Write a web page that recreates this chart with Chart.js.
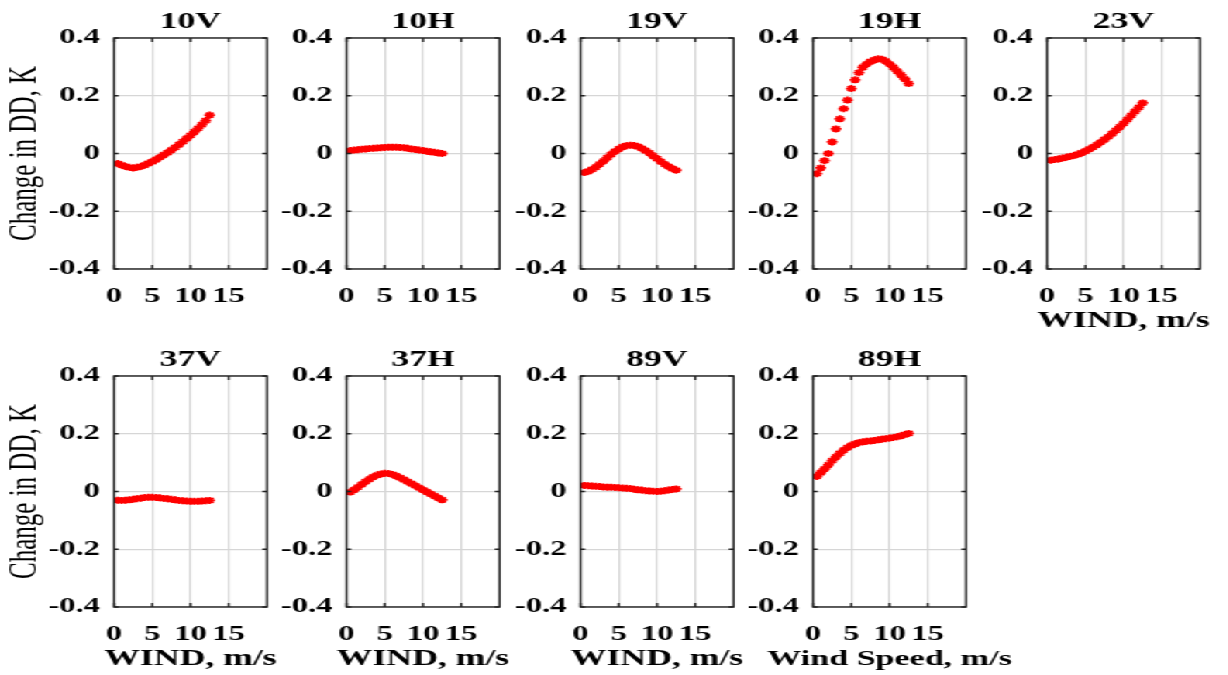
<!DOCTYPE html>
<html>
<head>
<meta charset="utf-8">
<script src="https://cdn.jsdelivr.net/npm/chart.js@4.4.1/dist/chart.umd.min.js"></script>
<style>
  html, body { margin: 0; padding: 0; background: #fff; overflow: hidden; }
  #stage { position: absolute; left: 0; top: 0; width: 793px; height: 675px;
           transform: scaleX(1.55); transform-origin: 0 0; }
  #stage canvas { position: absolute; }
</style>
</head>
<body>
<div id="stage"></div>
<script>
// wind speed bins, m/s
const wind = [0.5, 1, 1.5, 2, 2.5, 3, 3.5, 4, 4.5, 5, 5.5, 6, 6.5, 7, 7.5, 8, 8.5, 9, 9.5, 10, 10.5, 11, 11.5, 12, 12.5];

// change in DD, K
const dd10V = [-0.035, -0.04, -0.045, -0.048, -0.05, -0.048, -0.045, -0.04, -0.034, -0.028, -0.021, -0.013, -0.005, 0.003, 0.012, 0.021, 0.031, 0.041, 0.052, 0.063, 0.075, 0.087, 0.1, 0.114, 0.133];
const dd10H = [0.01, 0.012, 0.013, 0.015, 0.016, 0.017, 0.018, 0.019, 0.02, 0.021, 0.022, 0.022, 0.022, 0.021, 0.02, 0.018, 0.016, 0.014, 0.012, 0.01, 0.008, 0.006, 0.004, 0.002, 0.0];
const dd19V = [-0.066, -0.062, -0.055, -0.047, -0.037, -0.026, -0.014, -0.003, 0.007, 0.016, 0.023, 0.027, 0.029, 0.028, 0.024, 0.018, 0.01, 0.002, -0.008, -0.018, -0.028, -0.037, -0.045, -0.052, -0.058];
const dd19H = [-0.07, -0.05, -0.025, 0.0, 0.04, 0.085, 0.12, 0.155, 0.185, 0.225, 0.255, 0.28, 0.298, 0.31, 0.318, 0.324, 0.328, 0.326, 0.32, 0.31, 0.298, 0.285, 0.272, 0.258, 0.242];
const dd23V = [-0.023, -0.021, -0.019, -0.016, -0.013, -0.01, -0.007, -0.003, 0.002, 0.008, 0.015, 0.022, 0.03, 0.039, 0.048, 0.058, 0.069, 0.08, 0.092, 0.104, 0.118, 0.132, 0.146, 0.16, 0.175];
const dd37V = [-0.03, -0.031, -0.03, -0.029, -0.027, -0.025, -0.023, -0.021, -0.02, -0.02, -0.021, -0.022, -0.024, -0.025, -0.027, -0.029, -0.031, -0.032, -0.033, -0.034, -0.034, -0.034, -0.033, -0.032, -0.031];
const dd37H = [-0.002, 0.006, 0.015, 0.025, 0.034, 0.043, 0.051, 0.057, 0.061, 0.063, 0.062, 0.059, 0.054, 0.048, 0.041, 0.034, 0.027, 0.02, 0.013, 0.006, -0.001, -0.008, -0.015, -0.022, -0.029];
const dd89V = [0.021, 0.02, 0.019, 0.018, 0.017, 0.016, 0.015, 0.015, 0.014, 0.013, 0.012, 0.011, 0.01, 0.008, 0.006, 0.005, 0.003, 0.002, 0.001, 0.0, 0.001, 0.003, 0.005, 0.007, 0.009];
const dd89H = [0.052, 0.065, 0.078, 0.092, 0.107, 0.12, 0.132, 0.143, 0.152, 0.16, 0.165, 0.169, 0.172, 0.174, 0.175, 0.177, 0.179, 0.181, 0.183, 0.185, 0.187, 0.19, 0.193, 0.197, 0.201];

const xTicks = [0, 5, 10, 15];
const yTicks = [-0.4, -0.2, 0, 0.2, 0.4];
const yLabel = 'Change in DD, K';

const panels = [
  { name: '10V', vals: dd10V, row: 0, col: 0, xTitle: '' },
  { name: '10H', vals: dd10H, row: 0, col: 1, xTitle: '' },
  { name: '19V', vals: dd19V, row: 0, col: 2, xTitle: '' },
  { name: '19H', vals: dd19H, row: 0, col: 3, xTitle: '' },
  { name: '23V', vals: dd23V, row: 0, col: 4, xTitle: 'WIND, m/s' },
  { name: '37V', vals: dd37V, row: 1, col: 0, xTitle: 'WIND, m/s' },
  { name: '37H', vals: dd37H, row: 1, col: 1, xTitle: 'WIND, m/s' },
  { name: '89V', vals: dd89V, row: 1, col: 2, xTitle: 'WIND, m/s' },
  { name: '89H', vals: dd89H, row: 1, col: 3, xTitle: 'Wind Speed, m/s', capSize: 22 },
];

const S = 1.55;                 // horizontal stretch of the whole figure
const plotLefts = [114, 347, 580, 813, 1047];
const plotTops = [38, 376];
const yAxisW = 114 / S;
const plotW = 153 / S;
const canvasW = Math.round((114 + 153 + 70) / S);   // extra room on the right for captions
const canvasH = 345;

const serif = 'Liberation Serif';

// black frame with inward ticks, like the original plots
const framePlugin = {
  id: 'frame',
  afterDraw(chart) {
    const { ctx, chartArea: a, scales } = chart;
    ctx.save();
    ctx.strokeStyle = '#222';
    ctx.lineWidth = 1.4;
    ctx.strokeRect(a.left, a.top, a.right - a.left, a.bottom - a.top);
    ctx.beginPath();
    xTicks.forEach(v => {
      const px = scales.x.getPixelForValue(v);
      ctx.moveTo(px, a.bottom); ctx.lineTo(px, a.bottom - 4);
      ctx.moveTo(px, a.top); ctx.lineTo(px, a.top + 4);
    });
    yTicks.forEach(v => {
      const py = scales.y.getPixelForValue(v);
      ctx.moveTo(a.left, py); ctx.lineTo(a.left + 3, py);
      ctx.moveTo(a.right, py); ctx.lineTo(a.right - 3, py);
    });
    ctx.stroke();
    // x-axis caption, drawn here so it is not squeezed to the plot width
    const { caption, size } = chart.options.plugins.frame;
    if (caption) {
      ctx.fillStyle = '#000';
      ctx.font = 'bold ' + size + 'px "Liberation Serif"';
      ctx.textAlign = 'center';
      ctx.textBaseline = 'middle';
      ctx.fillText(caption, (a.left + a.right) / 2, a.bottom + 52);
    }
    ctx.restore();
  }
};

const stage = document.getElementById('stage');

panels.forEach(p => {
  const cv = document.createElement('canvas');
  cv.width = canvasW;
  cv.height = canvasH;
  cv.style.width = canvasW + 'px';
  cv.style.height = canvasH + 'px';
  cv.style.left = ((plotLefts[p.col] - 114) / S) + 'px';
  cv.style.top = (plotTops[p.row] - 38) + 'px';
  stage.appendChild(cv);

  new Chart(cv.getContext('2d'), {
    type: 'scatter',
    data: {
      datasets: [{
        data: wind.map((w, i) => ({ x: w, y: p.vals[i] })),
        pointStyle: 'star',
        pointRadius: 3.5,
        pointBorderWidth: 1.8,
        borderColor: '#ff0000',
        backgroundColor: '#ff0000',
        showLine: false,
      }]
    },
    options: {
      responsive: false,
      animation: false,
      devicePixelRatio: 1,
      layout: { padding: { left: 0, right: canvasW - yAxisW - plotW, top: 0, bottom: 0 } },
      plugins: {
        legend: { display: false },
        tooltip: { enabled: false },
        frame: { caption: p.xTitle, size: p.capSize || 23 },
        title: {
          display: true,
          text: p.name,
          fullSize: false,
          color: '#000',
          font: { family: serif, weight: 'bold', size: 23 },
          padding: { top: 8, bottom: 2.4 },
        },
      },
      scales: {
        x: {
          type: 'linear',
          min: 0,
          max: 20,
          afterFit: s => { s.height = 76; },
          afterBuildTicks: s => { s.ticks = [0, 5, 10, 15, 20].map(v => ({ value: v })); },
          ticks: {
            autoSkip: false,
            maxRotation: 0,
            padding: 0,
            color: '#000',
            font: { family: serif, weight: 'bold', size: 21 },
            callback: v => (xTicks.includes(v) ? String(v) : ''),
          },
          grid: { color: '#d6d6d6', lineWidth: 1.2, drawTicks: true, tickLength: 15, tickColor: 'rgba(0,0,0,0)' },
          border: { display: false },
        },
        y: {
          min: -0.4,
          max: 0.4,
          afterFit: s => { s.width = yAxisW; },
          afterBuildTicks: s => { s.ticks = yTicks.map(v => ({ value: v })); },
          ticks: {
            padding: 9,
            color: '#000',
            font: { family: serif, weight: 'bold', size: 21 },
            callback: v => (Math.abs(v) < 1e-9 ? '0' : v.toFixed(1)),
          },
          grid: { color: '#d6d6d6', lineWidth: 1.2, drawTicks: false },
          border: { display: false },
          title: {
            display: p.col === 0,
            text: yLabel,
            color: '#000',
            font: { family: serif, size: 25 },
            padding: { top: 1, bottom: 0 },
          },
        },
      },
    },
    plugins: [framePlugin],
  });
});
</script>
</body>
</html>
